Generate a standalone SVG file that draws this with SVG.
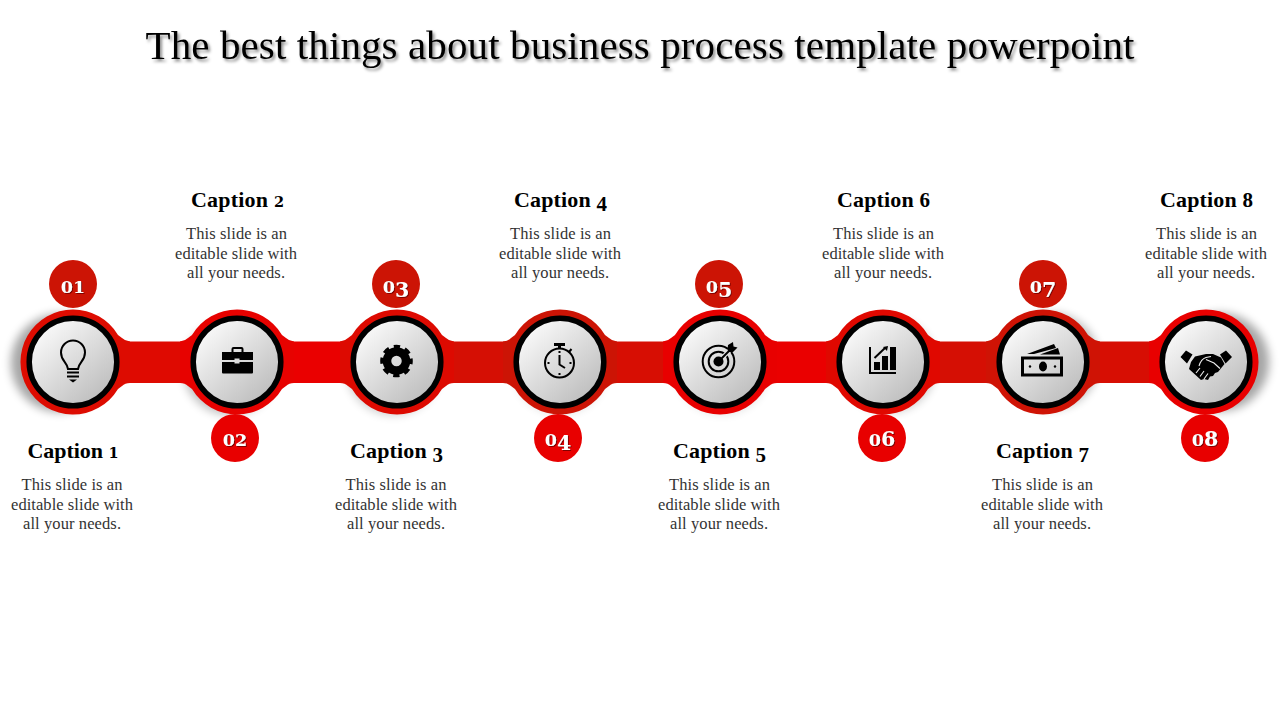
<svg xmlns="http://www.w3.org/2000/svg" width="1280" height="720" viewBox="0 0 1280 720">
<style>
text{font-family:"Liberation Serif","Times New Roman",serif;text-anchor:middle}
.title{font-size:41px;fill:#000;filter:url(#ts)}
.cap{font-size:22px;font-weight:bold;fill:#000}
.cs{font-family:"DejaVu Serif",serif;font-size:14.500px}
.cl{font-size:21px}
.body{font-size:16.500px;fill:#333}
.num{font-family:"DejaVu Serif","Liberation Serif",serif;font-size:17.500px;font-weight:bold;fill:#fff;filter:url(#ns)}
.d{font-size:20.500px}
.disc{fill:url(#face);stroke:#000;stroke-width:5.500}
.dark{fill:#cc1405}
.bright{fill:#e80000}
.ln{fill:none;stroke:#000;stroke-width:2}
.sh{fill:#000;filter:url(#blur)}
.wl{fill:none;stroke:#eee;stroke-width:1.100}
</style>
<defs>
<linearGradient id="face" x1="0.15" y1="0.1" x2="0.85" y2="0.9"><stop offset="0" stop-color="#fafafa"/><stop offset="1" stop-color="#bdbdbd"/></linearGradient>
<filter id="ts" x="-5%" y="-30%" width="110%" height="170%"><feDropShadow dx="2" dy="2.500" stdDeviation="1.600" flood-color="#000" flood-opacity=".45"/></filter>
<filter id="ns" x="-30%" y="-30%" width="160%" height="160%"><feDropShadow dx="1" dy="1" stdDeviation=".5" flood-color="#700" flood-opacity=".9"/></filter>
<filter id="blur" x="-30%" y="-30%" width="160%" height="160%"><feGaussianBlur stdDeviation="5"/></filter>
</defs>
<rect width="1280" height="720" fill="#fff"/>
<text class="title" x="640" y="59" textLength="989">The best things about business process template powerpoint</text>

<g id="shadows">
<circle class="sh" cx="60" cy="363" r="49" opacity=".35"/>
<circle class="sh" cx="230" cy="368" r="47" opacity=".25"/>
<circle class="sh" cx="393" cy="368" r="47" opacity=".2"/>
<circle class="sh" cx="560" cy="367" r="47" opacity=".12"/>
<circle class="sh" cx="722" cy="367" r="47" opacity=".12"/>
<circle class="sh" cx="889" cy="365" r="47" opacity=".22"/>
<circle class="sh" cx="1051" cy="361" r="48" opacity=".28"/>
<circle class="sh" cx="1220" cy="362" r="49" opacity=".35"/>
</g>

<g id="connectors">
<rect x="120" y="341.500" width="70" height="41.500" fill="#df0a01"/>
<rect x="284" y="341.500" width="66" height="41.500" fill="#ea0000"/>
<rect x="444" y="341.500" width="69" height="41.500" fill="#d50f04"/>
<rect x="607" y="341.500" width="66" height="41.500" fill="#d70e03"/>
<rect x="767" y="341.500" width="69" height="41.500" fill="#ea0000"/>
<rect x="930" y="341.500" width="66" height="41.500" fill="#d50f04"/>
<rect x="1090" y="341.500" width="69" height="41.500" fill="#d70e03"/>
</g>

<g id="node1">
<path fill="#dd0c01" d="M73 309.500A52.500 52.500 0 0 1 118 335L122 338Q125 341 130 341.500V383Q125 383 122 386L118 389A52.500 52.500 0 1 1 73 309.500Z"/>
<circle class="disc" cx="73" cy="362" r="43.800"/>
<path class="ln" d="M68 369C67 362 61 361 61 352.500A12 12 0 0 1 85 352.500C85 361 79 362 78 369Z"/>
<path class="ln" d="M67 372.500H79M67 376.500H79" stroke-width="2.200"/>
<path d="M69 379.500H77L73 382.500Z"/>
<g transform="translate(73 284)"><circle class="dark" r="24"/><text class="num" y="8.500">01</text></g>
<text class="cap" x="73" y="458" textLength="91">Caption <tspan class="cs">1</tspan></text>
<text class="body" x="72" y="490" textLength="101">This slide is an</text>
<text class="body" x="72" y="510" textLength="122">editable slide with</text>
<text class="body" x="72" y="529" textLength="98">all your needs.</text>
</g>

<g id="node2">
<path fill="#e70200" d="M237 309.500A52.500 52.500 0 0 1 282 335L286 338Q289 341 294 341.500V383Q289 383 286 386L282 389A52.500 52.500 0 0 1 192 389L188 386Q185 383 180 383V341.500Q185 341 188 338L192 335A52.500 52.500 0 0 1 237 309.500Z"/>
<circle class="disc" cx="237" cy="362" r="43.800"/>
<path d="M222 352H253V360H239.500V358.500H234.500V360H222ZM222 362H234.500V363.500H239.500V362H253V372.500Q253 373.500 252 373.500H223Q222 373.500 222 372.500Z"/>
<path class="ln" d="M232.500 352V349Q232.500 348 233.500 348H241.500Q242.500 348 242.500 349V352" stroke-width="1.800"/>
<g transform="translate(235 438)"><circle class="bright" r="24"/><text class="num" y="7.500">02</text></g>
<text class="cap" x="237.500" y="207" textLength="93">Caption <tspan class="cs">2</tspan></text>
<text class="body" x="236.500" y="239" textLength="101">This slide is an</text>
<text class="body" x="236" y="259" textLength="122">editable slide with</text>
<text class="body" x="236" y="278" textLength="98">all your needs.</text>
</g>

<g id="node3">
<path fill="#dd0a01" d="M397 309.500A52.500 52.500 0 0 1 442 335L446 338Q449 341 454 341.500V383Q449 383 446 386L442 389A52.500 52.500 0 0 1 352 389L348 386Q345 383 340 383V341.500Q345 341 348 338L352 335A52.500 52.500 0 0 1 397 309.500Z"/>
<circle class="disc" cx="397" cy="362" r="43.800"/>
<circle cx="396.500" cy="361" r="9.500" fill="none" stroke="#000" stroke-width="8.500"/>
<circle cx="396.500" cy="361" r="14.300" fill="none" stroke="#000" stroke-width="4" stroke-dasharray="6.200 5.030" stroke-dashoffset="3.100"/>
<g transform="translate(396 284)"><circle class="dark" r="24"/><text class="num" y="8.500">0<tspan class="d" dy="4.500">3</tspan></text></g>
<text class="cap" x="396.500" y="458" textLength="93">Caption <tspan class="cl" dy="4">3</tspan></text>
<text class="body" x="396" y="490" textLength="101">This slide is an</text>
<text class="body" x="396" y="510" textLength="122">editable slide with</text>
<text class="body" x="396" y="529" textLength="98">all your needs.</text>
</g>

<g id="node4">
<path fill="#cc1405" d="M560 309.500A52.500 52.500 0 0 1 605 335L609 338Q612 341 617 341.500V383Q612 383 609 386L605 389A52.500 52.500 0 0 1 515 389L511 386Q508 383 503 383V341.500Q508 341 511 338L515 335A52.500 52.500 0 0 1 560 309.500Z"/>
<circle class="disc" cx="560" cy="362" r="43.800"/>
<circle class="ln" cx="559.500" cy="363" r="14.500" stroke-width="1.600"/>
<path d="M554 343H565V346H561V349H558V346H554Z"/>
<path class="ln" d="M569 352L571.500 349M559.500 355V364.500L565 368" stroke-width="1.500"/>
<path class="ln" d="M559.500 351V353M559.500 373V375M547.500 363H549.500M569.500 363H571.500" stroke-width="1.200"/>
<g transform="translate(558 438)"><circle class="bright" r="24"/><text class="num" y="7.500">0<tspan class="d" dy="4.500">4</tspan></text></g>
<text class="cap" x="560.500" y="207" textLength="93">Caption <tspan class="cl" dy="4">4</tspan></text>
<text class="body" x="560.500" y="239" textLength="101">This slide is an</text>
<text class="body" x="560" y="259" textLength="122">editable slide with</text>
<text class="body" x="560" y="278" textLength="98">all your needs.</text>
</g>

<g id="node5">
<path fill="#e80000" d="M720 309.500A52.500 52.500 0 0 1 765 335L769 338Q772 341 777 341.500V383Q772 383 769 386L765 389A52.500 52.500 0 0 1 675 389L671 386Q668 383 663 383V341.500Q668 341 671 338L675 335A52.500 52.500 0 0 1 720 309.500Z"/>
<circle class="disc" cx="720" cy="362" r="43.800"/>
<circle class="ln" cx="718.500" cy="361.500" r="15.800" stroke-width="2.400"/>
<circle class="ln" cx="718.500" cy="361.500" r="9.800" stroke-width="2.400"/>
<path d="M718.500 361.500L731 349" fill="none" stroke="#e4e4e4" stroke-width="4.500"/>
<circle cx="718.500" cy="361.500" r="5"/>
<path class="ln" d="M718.500 361.500L731 349"/>
<path d="M727.500 350L728 345L733 342L733.500 346.500L737.500 347.500L733 352L729 352Z"/>
<g transform="translate(719 284)"><circle class="dark" r="24"/><text class="num" y="8.500">0<tspan class="d" dy="4.500">5</tspan></text></g>
<text class="cap" x="719.500" y="458" textLength="93">Caption <tspan class="cl" dy="4">5</tspan></text>
<text class="body" x="719.500" y="490" textLength="101">This slide is an</text>
<text class="body" x="719" y="510" textLength="122">editable slide with</text>
<text class="body" x="719" y="529" textLength="98">all your needs.</text>
</g>

<g id="node6">
<path fill="#e00800" d="M883 309.500A52.500 52.500 0 0 1 928 335L932 338Q935 341 940 341.500V383Q935 383 932 386L928 389A52.500 52.500 0 0 1 838 389L834 386Q831 383 826 383V341.500Q831 341 834 338L838 335A52.500 52.500 0 0 1 883 309.500Z"/>
<circle class="disc" cx="883" cy="362" r="43.800"/>
<path d="M869 347H871V372H896V374H869ZM874 362H880V370H874ZM882 356H888V370H882ZM890 347H896V370H890Z"/>
<path class="ln" d="M874.500 358L885 348" stroke-width="1.100"/>
<path d="M883 347L888 346L887 351Z"/>
<g transform="translate(882 438)"><circle class="bright" r="24"/><text class="num" y="7.500">0<tspan class="d">6</tspan></text></g>
<text class="cap" x="883.500" y="207" textLength="93">Caption <tspan class="cl">6</tspan></text>
<text class="body" x="883.500" y="239" textLength="101">This slide is an</text>
<text class="body" x="883" y="259" textLength="122">editable slide with</text>
<text class="body" x="883" y="278" textLength="98">all your needs.</text>
</g>

<g id="node7">
<path fill="#cf1305" d="M1043 309.500A52.500 52.500 0 0 1 1088 335L1092 338Q1095 341 1100 341.500V383Q1095 383 1092 386L1088 389A52.500 52.500 0 0 1 998 389L994 386Q991 383 986 383V341.500Q991 341 994 338L998 335A52.500 52.500 0 0 1 1043 309.500Z"/>
<circle class="disc" cx="1043" cy="362" r="43.800"/>
<rect x="1022.500" y="358" width="39" height="17" fill="none" stroke="#000" stroke-width="3"/>
<ellipse cx="1043" cy="366.500" rx="4" ry="5"/>
<circle cx="1030" cy="366.500" r="1.200"/><circle cx="1055" cy="366.500" r="1.200"/>
<path d="M1027 354L1054 344L1056 348L1034 354ZM1040 354.500L1058 348L1060 354.500Z"/>
<g transform="translate(1043 284)"><circle class="dark" r="24"/><text class="num" y="8.500">0<tspan class="d" dy="4.500">7</tspan></text></g>
<text class="cap" x="1042.500" y="458" textLength="93">Caption <tspan class="cl" dy="4">7</tspan></text>
<text class="body" x="1042.500" y="490" textLength="101">This slide is an</text>
<text class="body" x="1042" y="510" textLength="122">editable slide with</text>
<text class="body" x="1042" y="529" textLength="98">all your needs.</text>
</g>

<g id="node8">
<path fill="#e80000" d="M1206 309.500A52.500 52.500 0 1 1 1161 389L1157 386Q1154 383 1149 383V341.500Q1154 341 1157 338L1161 335A52.500 52.500 0 0 1 1206 309.500Z"/>
<circle class="disc" cx="1206" cy="362" r="43.800"/>
<path d="M1180.500 357L1186 350.500L1192.500 354.500L1187 363.500ZM1226 350.500L1232 357L1225.500 363.500L1220 354.500Z"/>
<path d="M1191 362L1195 356.500L1206 354H1213L1221 357.500L1224.500 364L1218 372L1215 373L1213 376L1210 376.500L1208 380L1204 379L1201 380L1189 369Z"/>
<path class="wl" d="M1199 366Q1201 359 1206 357.500L1211 356.500M1206 359.500L1214 363L1220 368.500M1196 373L1200 368M1200 376.500L1204 371M1204 379L1208 373.500"/>
<g transform="translate(1205 438)"><circle class="bright" r="24"/><text class="num" y="7.500">0<tspan class="d">8</tspan></text></g>
<text class="cap" x="1206.500" y="207" textLength="93">Caption <tspan class="cl">8</tspan></text>
<text class="body" x="1206.500" y="239" textLength="101">This slide is an</text>
<text class="body" x="1206" y="259" textLength="122">editable slide with</text>
<text class="body" x="1206" y="278" textLength="98">all your needs.</text>
</g>
</svg>
